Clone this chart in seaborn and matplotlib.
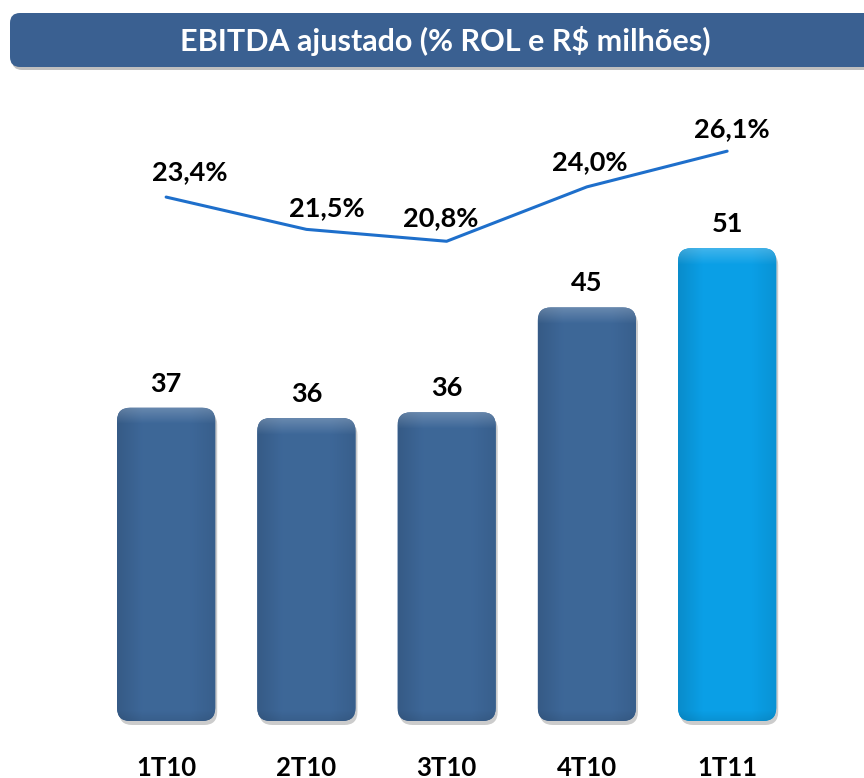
import numpy as np
import pandas as pd
import matplotlib
matplotlib.use("Agg")
import matplotlib.pyplot as plt
import matplotlib.transforms as mtransforms
from matplotlib.patches import FancyBboxPatch
import seaborn as sns

# ---------------- data ----------------
categories = ["1T10", "2T10", "3T10", "4T10", "1T11"]
ebitda = [36.6, 35.7, 36.2, 45.4, 50.6]          # R$ milhões
ebitda_labels = ["37", "36", "36", "45", "51"]
margin = [23.4, 21.5, 20.8, 24.0, 26.1]          # % ROL
margin_labels = ["23,4%", "21,5%", "20,8%", "24,0%", "26,1%"]
title = "EBITDA ajustado (% ROL e R$ milhões)"

# ---------------- style ----------------
sns.set_theme(style="white")
FONT = ["Lato", "DejaVu Sans"]
plt.rcParams["font.family"] = FONT
DARK = "#3C6595"
LIGHT = "#0A9CE2"
bar_colors = [DARK, DARK, DARK, DARK, LIGHT]
LINE_COLOR = "#1E6FCB"
margin_dx = [24, 20, -6, 3, 5]     # label offsets in pixels (style)
margin_dy = [25, 21, 23, 25, 22]

W, H = 864, 778
fig = plt.figure(figsize=(W / 100, H / 100), dpi=100)
ax = fig.add_axes([96 / W, (H - 721) / H, 701.25 / W, 621 / H])

df = pd.DataFrame({"trimestre": categories, "ebitda": ebitda, "margem": margin})
sns.barplot(data=df, x="trimestre", y="ebitda", hue="trimestre", palette=bar_colors,
            legend=False, saturation=1, width=0.70, ax=ax)

Y0, Y1 = 9.12, 63.6
ax.set_ylim(Y0, Y1)
ax.set_xlim(-0.5, len(categories) - 0.5)

px_x = 701.25 / len(categories)          # pixels per x unit
px_y = 621 / (Y1 - Y0)                   # pixels per y unit
aspect = px_x / px_y
r = 13 / px_x

def shade(base, nrows, ncols=60, bevel_px=16):
    rgb = np.array(matplotlib.colors.to_rgb(base))
    xs = np.linspace(0, 1, ncols)
    fx = 0.90 + 0.12 * np.clip(xs / 0.25, 0, 1) - 0.08 * np.clip((xs - 0.75) / 0.25, 0, 1)
    img = np.ones((nrows, ncols, 3)) * rgb
    img *= fx[None, :, None]
    rows = np.arange(nrows)
    top = np.clip(1 - rows / bevel_px, 0, 1)
    img = img + (1 - img) * (0.22 * top)[:, None, None]
    bot = np.clip(1 - (nrows - 1 - rows) / 10, 0, 1)
    img = img * (1 - 0.08 * bot)[:, None, None]
    return np.clip(img, 0, 1)

bars = list(ax.patches)
for p, col in zip(bars, bar_colors):
    x0, w, h = p.get_x(), p.get_width(), p.get_height()
    yb = max(p.get_y(), Y0)
    yt = p.get_y() + h
    p.set_visible(False)
    shadow_tr = mtransforms.offset_copy(ax.transData, fig=fig, x=2, y=-4, units="dots")
    sh = FancyBboxPatch((x0, yb), w, yt - yb, boxstyle=f"round,pad=0,rounding_size={r}",
                        mutation_aspect=aspect, facecolor="#000000", alpha=0.2,
                        edgecolor="none", transform=shadow_tr, zorder=1, clip_on=False)
    ax.add_patch(sh)
    fb = FancyBboxPatch((x0, yb), w, yt - yb, boxstyle=f"round,pad=0,rounding_size={r}",
                        mutation_aspect=aspect, facecolor=col, edgecolor="none",
                        zorder=2, clip_on=False)
    ax.add_patch(fb)
    nrows = max(int((yt - yb) * px_y), 2)
    im = ax.imshow(shade(col, nrows), extent=[x0, x0 + w, yb, yt], aspect="auto",
                   origin="upper", zorder=3, interpolation="bilinear")
    im.set_clip_path(fb)

ax.set_ylim(Y0, Y1)
ax.set_xlim(-0.5, len(categories) - 0.5)

for i, (v, lab) in enumerate(zip(ebitda, ebitda_labels)):
    ax.annotate(lab, (i, v), xytext=(0, 24), textcoords="offset pixels",
                ha="center", va="center", fontsize=19.5, fontweight="bold",
                color="black", family=FONT, zorder=5)

ax2 = ax.twinx()
sns.lineplot(x=np.arange(len(categories)), y=margin, ax=ax2, color=LINE_COLOR,
             linewidth=2.2, zorder=4)
ax2.set_ylim(-7.42, 29.11)
ax2.set_xlim(-0.5, len(categories) - 0.5)
for i, (v, lab) in enumerate(zip(margin, margin_labels)):
    ax2.annotate(lab, (i, v), xytext=(margin_dx[i], margin_dy[i]), textcoords="offset pixels",
                 ha="center", va="center", fontsize=19.5, fontweight="bold",
                 color="black", family=FONT)

for a in (ax, ax2):
    for s in a.spines.values():
        s.set_visible(False)
    a.set_yticks([])
    a.set_ylabel("")
    a.set_xlabel("")
    a.grid(False)
ax.set_xticks(range(len(categories)))
ax.set_xticklabels(categories, fontsize=18.5, fontweight="bold", color="black", family=FONT)
ax.tick_params(axis="x", length=0, pad=25)
ax2.tick_params(axis="x", length=0, labelbottom=False)

# title banner
pix = mtransforms.IdentityTransform()
shadow = FancyBboxPatch((12, H - 70), 900, 54, boxstyle="round,pad=0,rounding_size=10",
                        facecolor="#000000", alpha=0.25, edgecolor="none", transform=pix)
fig.patches.append(shadow)
banner = FancyBboxPatch((10, H - 67), 900, 54, boxstyle="round,pad=0,rounding_size=10",
                        facecolor="#3A6091", edgecolor="none", transform=pix)
fig.patches.append(banner)
fig.text(445 / W, 1 - 41 / H, title, ha="center", va="center", color="white",
         fontsize=22, fontweight="bold", family=FONT)

fig.savefig("out.png", dpi=100)
